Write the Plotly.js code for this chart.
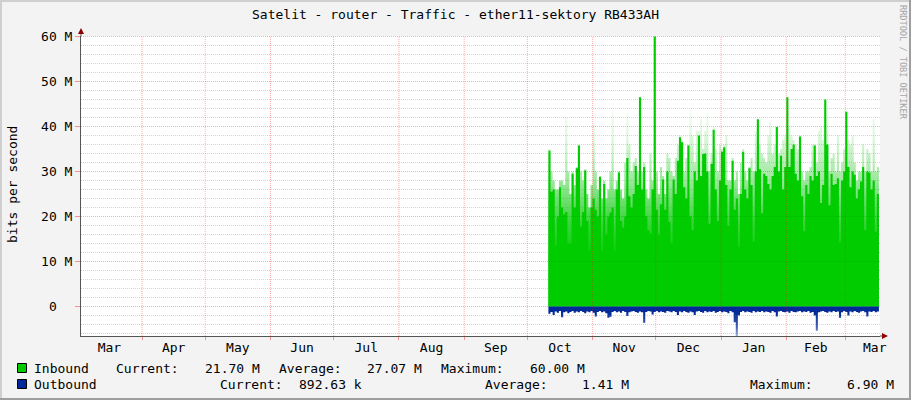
<!DOCTYPE html>
<html><head><meta charset="utf-8">
<script src="https://cdn.plot.ly/plotly-3.0.1.min.js"></script>
<style>html,body{margin:0;padding:0;background:#F3F3F3;overflow:hidden}#chart{width:911px;height:400px}</style>
</head><body><div id="chart"></div>
<script>
// ---- data (values in M bits/s, one per day starting at firstSample) ----
const firstSample = Date.UTC(2010, 9, 11);
const inboundSolid = [
34.6,25.5,26,13.5,20,26.5,22,20.5,21,14,
14,29.5,22,30.7,35.8,17.8,21,30.2,19,12.5,
22,24,21.5,20,28.8,12.3,27.2,16,20,20.9,
22,12.3,26,29.8,19,17.5,20,33,24.5,22,
25,31.2,27,46.5,26,31,20,17,16.2,26,
60,21.5,16,22.7,28.2,21.5,30,18.8,14,28.2,
25,32.4,37.6,36.5,26.5,24,35.8,20,17,30,
28,38,29,33.9,34,30,18.4,31.7,39.3,26,
19,28,34.4,35.4,27,17.9,26,32.4,21.5,24,
13.2,25,34.4,26,24,30.7,27,14.4,30,41.6,
30.5,20.7,29.5,29,27.2,26,29,31,39.9,30,
33.5,26,31,46.5,31,35,36,29.5,28,37.8,
24.5,16.8,27,25,29,28,35.8,29,30,23,
27,46,36,22.5,29.5,27,27.2,28.5,14.2,28,
30,43.3,31,26.5,30,29.3,24,26,27.8,31,
17,30,29.8,26,28,16.6,25,21.7];
const inboundPeak = [
35,30,28,26,26,28,28,27,42,30,
25,30,27,31,36,30,28,30.5,25,22,
27,40.5,30,26,29,24,28,24,26,30,
51.7,26,28,30,26,24,32,43,36,30,
32,33,30,47,30,32,26,24,34,28,
60,30,25,31,29,25,34,33,30,29,
33,36,38,37,30,33,36,44,38,32,
39,39,41.7,35,39,43,30,34,40,35,
30,36,35,36,38,28,28,33,28,30,
25,32,35,30,28,31,33,30,39,42,
36,34,33,32,38,41,34,36,40,34,
35,37,38,47,40,38,37,36,35,38,
30,28,30,30,31,36,36,32,39,40,
37,46.5,46,30,33,34,30,38,30,32,
35,44,37,36,38,32,28,30,30,36,
30,35,34,30,41.7,30,31,24];
const outbound = [
1.6,1.2,1.9,1.1,1.4,1.0,2.4,1.3,1.1,1.5,
1.2,1.0,1.4,1.1,1.3,1.0,1.2,1.5,1.1,1.3,
1.0,1.4,2.2,1.2,1.0,1.3,1.1,1.5,2.5,2.3,
1.2,1.0,1.3,1.1,1.4,1.0,1.2,2.1,1.3,1.1,
1.0,1.2,1.4,1.1,1.3,3.6,1.2,1.0,1.1,1.8,
1.2,1.0,1.3,1.1,1.2,1.4,1.0,1.1,1.3,1.0,
1.2,1.9,1.1,1.3,1.0,1.2,1.4,1.1,1.3,1.9,
1.1,1.0,1.2,1.4,1.0,1.3,1.1,1.2,1.0,1.4,
1.2,1.0,1.3,1.1,1.2,1.5,1.0,1.3,3.5,6.9,
2.0,1.2,1.0,1.3,1.1,1.2,1.4,1.0,1.3,1.1,
1.2,1.0,1.3,1.1,1.2,1.4,1.0,1.3,2.2,1.1,
1.0,1.2,1.3,1.1,1.4,1.0,1.2,1.3,1.1,1.0,
1.3,1.1,1.2,1.0,1.4,1.2,2.0,5.4,1.3,1.1,
1.0,1.2,1.4,1.1,1.3,1.0,1.2,1.1,2.5,1.3,
1.0,1.2,2.0,1.1,1.3,1.0,1.2,1.4,1.1,1.0,
1.3,2.2,1.1,1.2,1.0,1.3,1.1,0.89];
const yTickVals = [0, 10, 20, 30, 40, 50, 60];
const yTickText = ['', '10 M', '20 M', '30 M', '40 M', '50 M', '60 M'];
const zeroLabel = '0';
const titleText = 'Satelit - router - Traffic - ether11-sektory RB433AH';
const legendInbound = ['Inbound', 'Current:', '21.70 M', 'Average:', '27.07 M', 'Maximum:', '60.00 M'];
const legendOutbound = ['Outbound', 'Current:', '892.63 k', 'Average:', '1.41 M', 'Maximum:', '6.90 M'];

// ---- layout geometry ----
const W = 911, H = 400, L = 81, R = 31, T = 36, B = 64;
const PW = W - L - R, PH = H - T - B;
const px2x = p => (p - L) / PW;
const py2y = p => (H - B - p) / PH;
const FONT = 'DejaVu Sans Mono';
const M = 1e6;

const xs = inboundSolid.map((_, i) => new Date(firstSample + i * 864e5).toISOString().slice(0, 19).replace('T', ' '));

const traces = [
  {x: xs, y: inboundPeak.map(v => v * M), type: 'scatter', mode: 'lines', line: {width: 0, shape: 'hv', color: '#00CC00'},
   fill: 'tozeroy', fillgradient: {type: 'vertical', start: 10e6, stop: 46e6,
     colorscale: [[0, '#00CC00'], [0.25, '#3ED53E'], [0.5, '#9DE79D'], [0.75, '#DAF5DA'], [1, '#FFFFFF']]}, hoverinfo: 'skip', showlegend: false},
  {x: xs, y: inboundSolid.map(v => v * M), type: 'scatter', mode: 'lines', line: {width: 0, shape: 'hv', color: '#00CC00'},
   fill: 'tozeroy', fillcolor: '#00CC00', name: 'Inbound', showlegend: false},
  {x: xs, y: outbound.map(v => -v * M), type: 'scatter', mode: 'lines', line: {width: 0, shape: 'hv', color: '#002A97'},
   fill: 'tozeroy', fillgradient: {type: 'vertical', start: -6.9e6, stop: -1.3e6,
     colorscale: [[0, '#AEBBE0'], [0.45, '#3E5BB0'], [1, '#002A97']]}, name: 'Outbound', showlegend: false}
];

const yr = [-6.5556e6, 60.1111e6];
const xr = ['2010-03-03', '2011-03-17 12:00'];

const shapes = [];
// grid on top of the data, like rrdtool
for (let v = -6; v <= 60; v += 2) {
  const major = v % 10 === 0;
  shapes.push({type: 'line', layer: 'above', xref: 'paper', yref: 'y', x0: 0, x1: 1, y0: v * M, y1: v * M,
    line: {color: major ? 'rgba(255,0,0,0.32)' : 'rgba(128,128,128,0.32)', width: 1, dash: '1px,1px'}});
}
for (let k = 1; k <= 12; k++) {
  const d = new Date(Date.UTC(2010, 2 + k, 1)).toISOString().slice(0, 10);
  shapes.push({type: 'line', layer: 'above', xref: 'x', yref: 'paper', x0: d, x1: d, y0: 0, y1: 1,
    line: {color: 'rgba(255,0,0,0.32)', width: 1, dash: '1px,1px'}});
}
// axis extensions and arrows
const AX = '#555555', AR = '#8B0000';
shapes.push({type: 'line', xref: 'paper', yref: 'paper', x0: px2x(81), x1: px2x(81), y0: py2y(36), y1: py2y(32), line: {color: AX, width: 1}});
shapes.push({type: 'path', xref: 'paper', yref: 'paper',
  path: `M ${px2x(81)} ${py2y(28)} L ${px2x(78)} ${py2y(34)} L ${px2x(84)} ${py2y(34)} Z`, fillcolor: AR, line: {width: 0}});
shapes.push({type: 'line', xref: 'paper', yref: 'paper', x0: px2x(880), x1: px2x(883), y0: py2y(336), y1: py2y(336), line: {color: AX, width: 1}});
shapes.push({type: 'path', xref: 'paper', yref: 'paper',
  path: `M ${px2x(888)} ${py2y(336)} L ${px2x(882)} ${py2y(333)} L ${px2x(882)} ${py2y(339)} Z`, fillcolor: AR, line: {width: 0}});
// legend swatches
shapes.push({type: 'rect', xref: 'paper', yref: 'paper', x0: px2x(17.5), x1: px2x(26.5), y0: py2y(363.5), y1: py2y(372.5), fillcolor: '#00CC00', line: {color: '#000', width: 1}});
shapes.push({type: 'rect', xref: 'paper', yref: 'paper', x0: px2x(17.5), x1: px2x(26.5), y0: py2y(379.5), y1: py2y(388.5), fillcolor: '#002A97', line: {color: '#000', width: 1}});
// frame
shapes.push({type: 'line', xref: 'paper', yref: 'paper', x0: px2x(0), x1: px2x(W), y0: py2y(1), y1: py2y(1), line: {color: '#CFCFCF', width: 2}});
shapes.push({type: 'line', xref: 'paper', yref: 'paper', x0: px2x(1), x1: px2x(1), y0: py2y(0), y1: py2y(H), line: {color: '#CFCFCF', width: 2}});
shapes.push({type: 'line', xref: 'paper', yref: 'paper', x0: px2x(0), x1: px2x(W), y0: py2y(H - 1), y1: py2y(H - 1), line: {color: '#9E9E9E', width: 2}});
shapes.push({type: 'line', xref: 'paper', yref: 'paper', x0: px2x(W - 1), x1: px2x(W - 1), y0: py2y(0), y1: py2y(H), line: {color: '#9E9E9E', width: 2}});

const annotations = [];
const inPos = [34, 116, 205, 279, 367, 441, 530];
const outPos = [34, 220, 299, 485, 582, 750, 847];
legendInbound.forEach((t, i) => annotations.push({text: t, xref: 'paper', yref: 'paper', x: px2x(inPos[i]), y: py2y(368),
  xanchor: 'left', yanchor: 'middle', showarrow: false, borderpad: 0, borderwidth: 0, font: {family: FONT, size: 13, color: '#000'}}));
legendOutbound.forEach((t, i) => annotations.push({text: t, xref: 'paper', yref: 'paper', x: px2x(outPos[i]), y: py2y(384),
  xanchor: 'left', yanchor: 'middle', showarrow: false, borderpad: 0, borderwidth: 0, font: {family: FONT, size: 13, color: '#000'}}));
annotations.push({text: zeroLabel, xref: 'paper', yref: 'y', x: px2x(56.5), y: 0, xanchor: 'right', yanchor: 'middle',
  showarrow: false, borderpad: 0, borderwidth: 0, font: {family: FONT, size: 13, color: '#000'}});
annotations.push({text: 'bits per second', xref: 'paper', yref: 'paper', x: px2x(12), y: py2y(185), textangle: -90,
  xanchor: 'center', yanchor: 'middle', showarrow: false, font: {family: FONT, size: 13, color: '#000'}});
annotations.push({text: 'RRDTOOL / TOBI OETIKER', xref: 'paper', yref: 'paper', x: px2x(903), y: py2y(62), textangle: 90,
  xanchor: 'center', yanchor: 'middle', showarrow: false, borderpad: 0, borderwidth: 0, font: {family: FONT, size: 8.6, color: '#A6A6A6'}});

const layout = {
  width: W, height: H,
  margin: {l: L, r: R, t: T, b: B, pad: 0},
  paper_bgcolor: '#F3F3F3', plot_bgcolor: '#FFFFFF',
  title: {text: titleText, font: {family: FONT, size: 13, color: '#000'}, x: 0.5, xref: 'container', xanchor: 'center',
    y: 1 - 14 / H, yref: 'container', yanchor: 'middle'},
  showlegend: false,
  xaxis: {type: 'date', range: xr, tickmode: 'linear', tick0: '2010-03-01', dtick: 'M1', ticklabelmode: 'period', tickformat: '%b',
    showgrid: false, zeroline: false, ticks: 'outside', ticklen: 3, tickcolor: 'rgba(255,0,0,0.4)', ticklabelstandoff: -4,
    showline: true, linecolor: AX, linewidth: 1, tickfont: {family: FONT, size: 13, color: '#000'}, fixedrange: true},
  yaxis: {range: yr, tickmode: 'array', tickvals: yTickVals.map(v => v * M), ticktext: yTickText,
    showgrid: false, zeroline: false, ticks: 'outside', ticklen: 5, tickcolor: 'rgba(255,0,0,0.4)',
    showline: true, linecolor: AX, linewidth: 1, tickfont: {family: FONT, size: 13, color: '#000'}, fixedrange: true},
  shapes: shapes,
  annotations: annotations
};

Plotly.newPlot('chart', traces, layout, {staticPlot: true, displayModeBar: false});
</script></body></html>
